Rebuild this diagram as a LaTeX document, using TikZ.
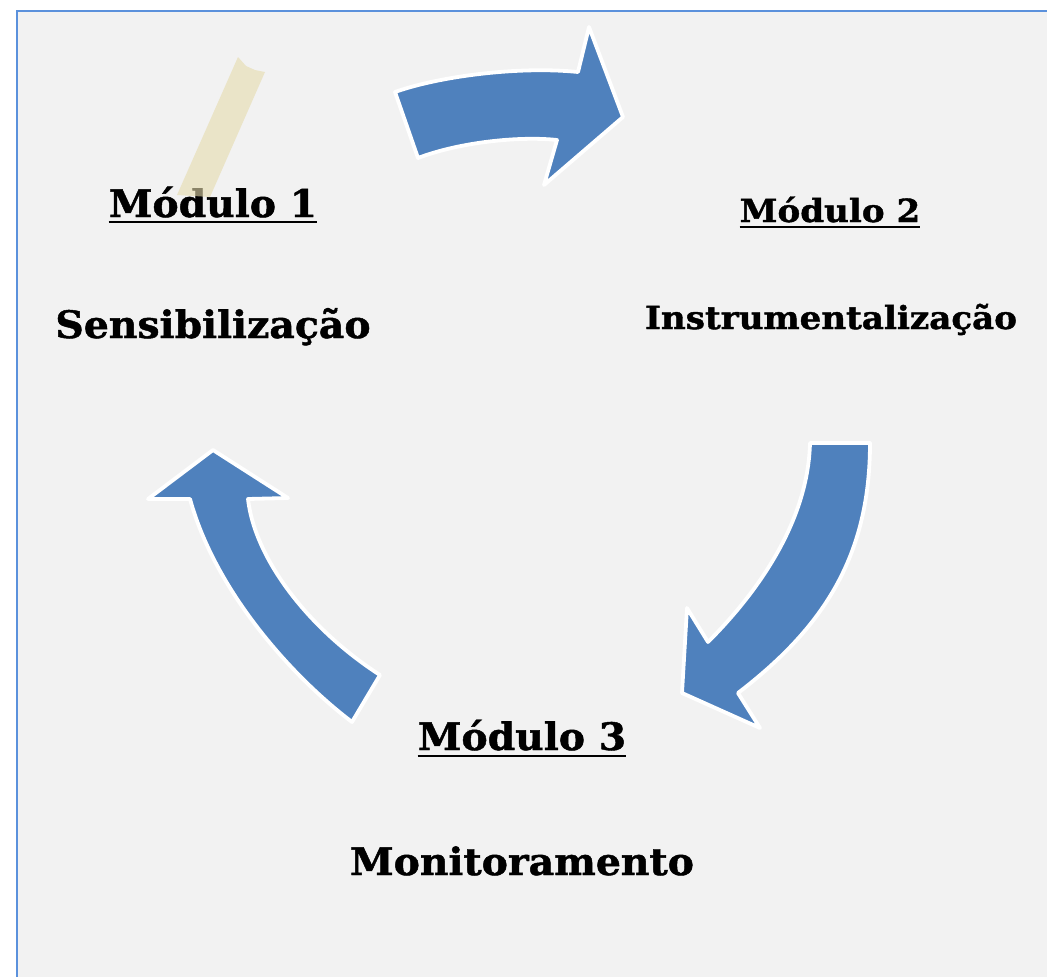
\documentclass[tikz,border=0pt]{standalone}
\usepackage{fontspec}
\newfontfamily\dserif{DejaVu Serif Bold}[FakeBold=1.2]
\definecolor{bgray}{RGB}{242,242,242}
\definecolor{frameblue}{RGB}{91,145,220}
\definecolor{arrowblue}{RGB}{79,129,189}
\definecolor{tape}{RGB}{230,219,172}
\tikzset{
  bigarrow/.style={fill=arrowblue, draw=white, line width=3.8bp, line join=round},
  title/.style={inner sep=0pt, anchor=base, xscale=1.04, font=\dserif\fontsize{38}{42}\selectfont},
  smalltitle/.style={inner sep=0pt, anchor=base, xscale=1.07, font=\dserif\fontsize{32}{36}\selectfont},
  uline/.style={line width=2.6bp, black},
}
\begin{document}
\begin{tikzpicture}[x=1bp,y=-1bp]
\useasboundingbox (0,0) rectangle (1047,977);
\fill[bgray] (16,10) rectangle (1047,977);
\draw[frameblue, line width=2bp] (17,977) -- (17,11) -- (1047,11);

% arrow 1 (top)
\draw[bigarrow] (395,92) .. controls (440,76) and (520,66) .. (578,72)
  -- (589,27) -- (623,117) -- (544,185) -- (557,140)
  .. controls (520,136) and (460,142) .. (418,158) -- cycle;
% arrow 2 (right)
\draw[bigarrow] (810,443) -- (870,443)
  .. controls (870,560) and (820,630) .. (738,693)
  -- (760,728) -- (682,693) -- (687,608) -- (708,642)
  .. controls (760,590) and (808,520) .. (810,443) -- cycle;
% arrow 3 (left)
\draw[bigarrow] (213,450) -- (288,498) -- (248,499)
  .. controls (255,560) and (310,630) .. (380,675)
  -- (352,722)
  .. controls (290,675) and (215,590) .. (190,499)
  -- (148,499) -- cycle;

% texts
\node[title] (m1) at (213,217) {Módulo 1};
\draw[uline] ([yshift=-5bp]m1.base west) -- ([yshift=-5bp]m1.base east);
\node[title] (s1) at (213,338) {Sensibilização};
\node[smalltitle] (m2) at (830,222) {Módulo 2};
\draw[uline] ([yshift=-5bp]m2.base west) -- ([yshift=-5bp]m2.base east);
\node[smalltitle] (s2) at (831,329) {Instrumentalização};
\node[title] (m3) at (522,750) {Módulo 3};
\draw[uline] ([yshift=-6bp]m3.base west) -- ([yshift=-6bp]m3.base east);
\node[title] (s3) at (522,875) {Monitoramento};

% tape strip
\fill[tape, opacity=0.6] (238,57) -- (246,66) -- (255,70) -- (265,72) -- (210,197) -- (177,195) -- cycle;
\end{tikzpicture}
\end{document}
